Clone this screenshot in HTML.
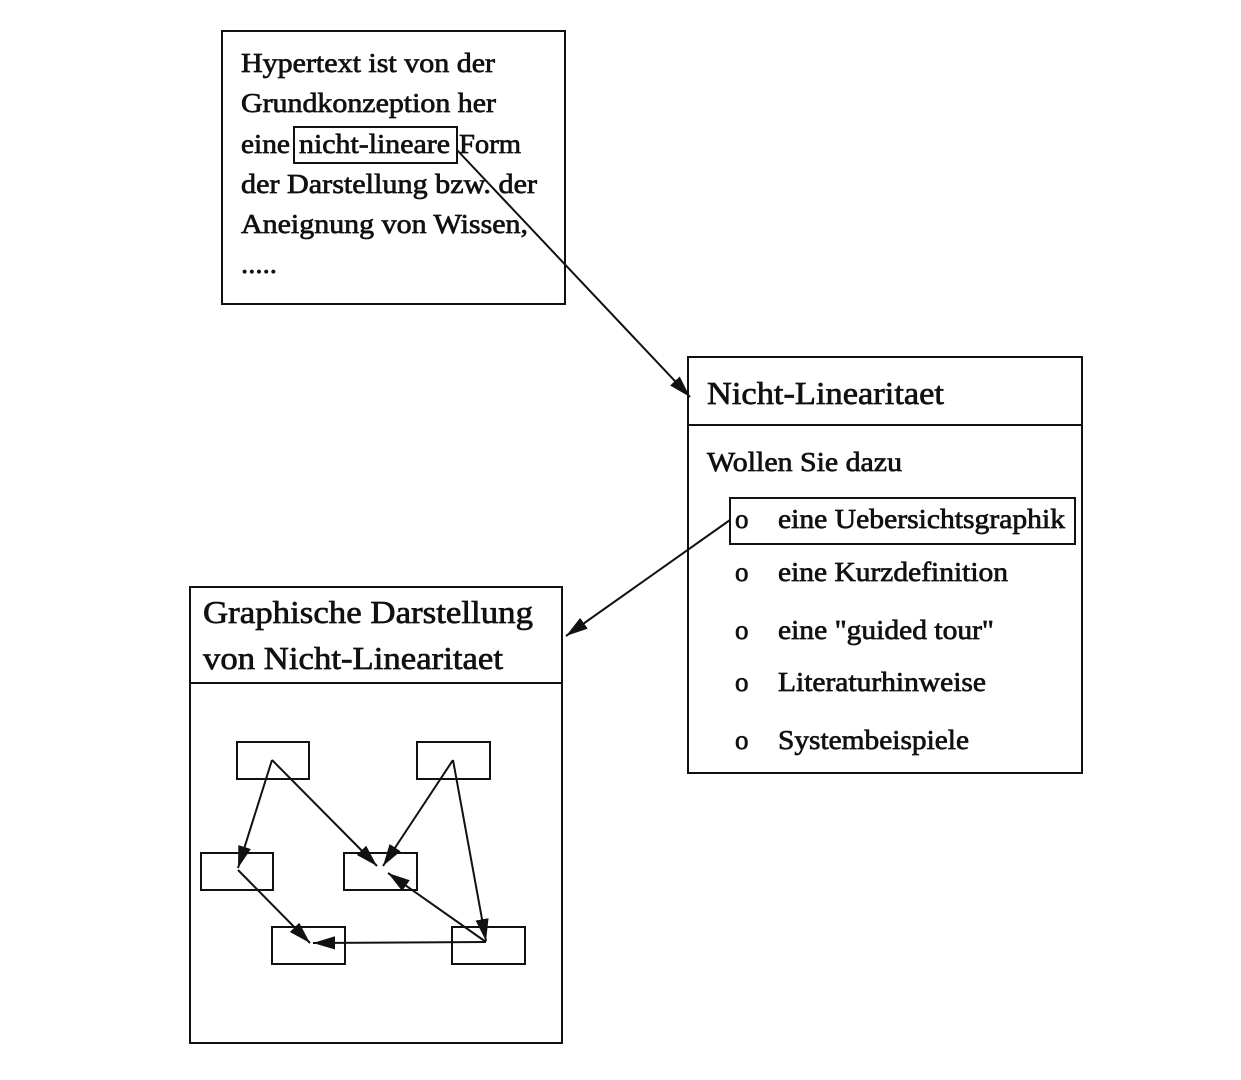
<!DOCTYPE html>
<html><head><meta charset="utf-8"><style>
html,body{margin:0;padding:0;background:#fff;}
svg{display:block}
text{font-family:"Liberation Serif",serif;fill:#111;stroke:#111;stroke-width:0.7;}
</style></head><body>
<svg width="1241" height="1080" viewBox="0 0 1241 1080" xmlns="http://www.w3.org/2000/svg">
<defs>
<marker id="b" viewBox="0 0 10 10" refX="10" refY="5" markerWidth="22" markerHeight="22" orient="auto" markerUnits="userSpaceOnUse"><path d="M0,2 L10,5 L0,8 z" fill="#111"/></marker>
</defs>
<g fill="none" stroke="#111" stroke-width="2">
<rect x="222" y="31" width="343" height="273"/>
<rect x="294" y="127" width="163" height="36"/>
<rect x="688" y="357" width="394" height="416"/>
<line x1="688" y1="425" x2="1082" y2="425"/>
<rect x="730" y="498" width="345" height="46"/>
<rect x="190" y="587" width="372" height="456"/>
<line x1="190" y1="683" x2="562" y2="683"/>
<rect x="237" y="742" width="72" height="37"/>
<rect x="417" y="742" width="73" height="37"/>
<rect x="201" y="853" width="72" height="37"/>
<rect x="344" y="853" width="73" height="37"/>
<rect x="272" y="927" width="73" height="37"/>
<rect x="452" y="927" width="73" height="37"/>
<line x1="457" y1="150" x2="690" y2="397" marker-end="url(#b)"/>
<line x1="730" y1="520" x2="566" y2="636" marker-end="url(#b)"/>
<line x1="272" y1="760" x2="238" y2="868" marker-end="url(#b)"/>
<line x1="272" y1="760" x2="377" y2="866" marker-end="url(#b)"/>
<line x1="453" y1="760" x2="383" y2="866" marker-end="url(#b)"/>
<line x1="453" y1="760" x2="486" y2="941" marker-end="url(#b)"/>
<line x1="238" y1="870" x2="310" y2="943" marker-end="url(#b)"/>
<line x1="486" y1="942" x2="388" y2="873" marker-end="url(#b)"/>
<line x1="486" y1="942" x2="313" y2="943" marker-end="url(#b)"/>
</g>
<g font-size="27" lengthAdjust="spacingAndGlyphs">
<text x="241" y="72" textLength="254" lengthAdjust="spacingAndGlyphs">Hypertext ist von der</text>
<text x="241" y="112" textLength="255" lengthAdjust="spacingAndGlyphs">Grundkonzeption her</text>
<text x="241" y="153" textLength="49" lengthAdjust="spacingAndGlyphs">eine</text>
<text x="299" y="153" textLength="151" lengthAdjust="spacingAndGlyphs">nicht-lineare</text>
<text x="459" y="153" textLength="62" lengthAdjust="spacingAndGlyphs">Form</text>
<text x="241" y="193" textLength="296" lengthAdjust="spacingAndGlyphs">der Darstellung bzw. der</text>
<text x="241" y="233" textLength="287" lengthAdjust="spacingAndGlyphs">Aneignung von Wissen,</text>
<text x="241" y="273" textLength="36" lengthAdjust="spacingAndGlyphs">.....</text>
<text x="707" y="471" textLength="195" lengthAdjust="spacingAndGlyphs">Wollen Sie dazu</text>
<text x="735" y="528">o</text><text x="778" y="528" textLength="287" lengthAdjust="spacingAndGlyphs">eine Uebersichtsgraphik</text>
<text x="735" y="581">o</text><text x="778" y="581" textLength="230" lengthAdjust="spacingAndGlyphs">eine Kurzdefinition</text>
<text x="735" y="639">o</text><text x="778" y="639" textLength="216" lengthAdjust="spacingAndGlyphs">eine "guided tour"</text>
<text x="735" y="691">o</text><text x="778" y="691" textLength="208" lengthAdjust="spacingAndGlyphs">Literaturhinweise</text>
<text x="735" y="749">o</text><text x="778" y="749" textLength="191" lengthAdjust="spacingAndGlyphs">Systembeispiele</text>
</g>
<g font-size="32">
<text x="707" y="404" textLength="237" lengthAdjust="spacingAndGlyphs">Nicht-Linearitaet</text>
<text x="203" y="623" textLength="330" lengthAdjust="spacingAndGlyphs">Graphische Darstellung</text>
<text x="203" y="669" textLength="300" lengthAdjust="spacingAndGlyphs">von Nicht-Linearitaet</text>
</g>
</svg>
</body></html>
